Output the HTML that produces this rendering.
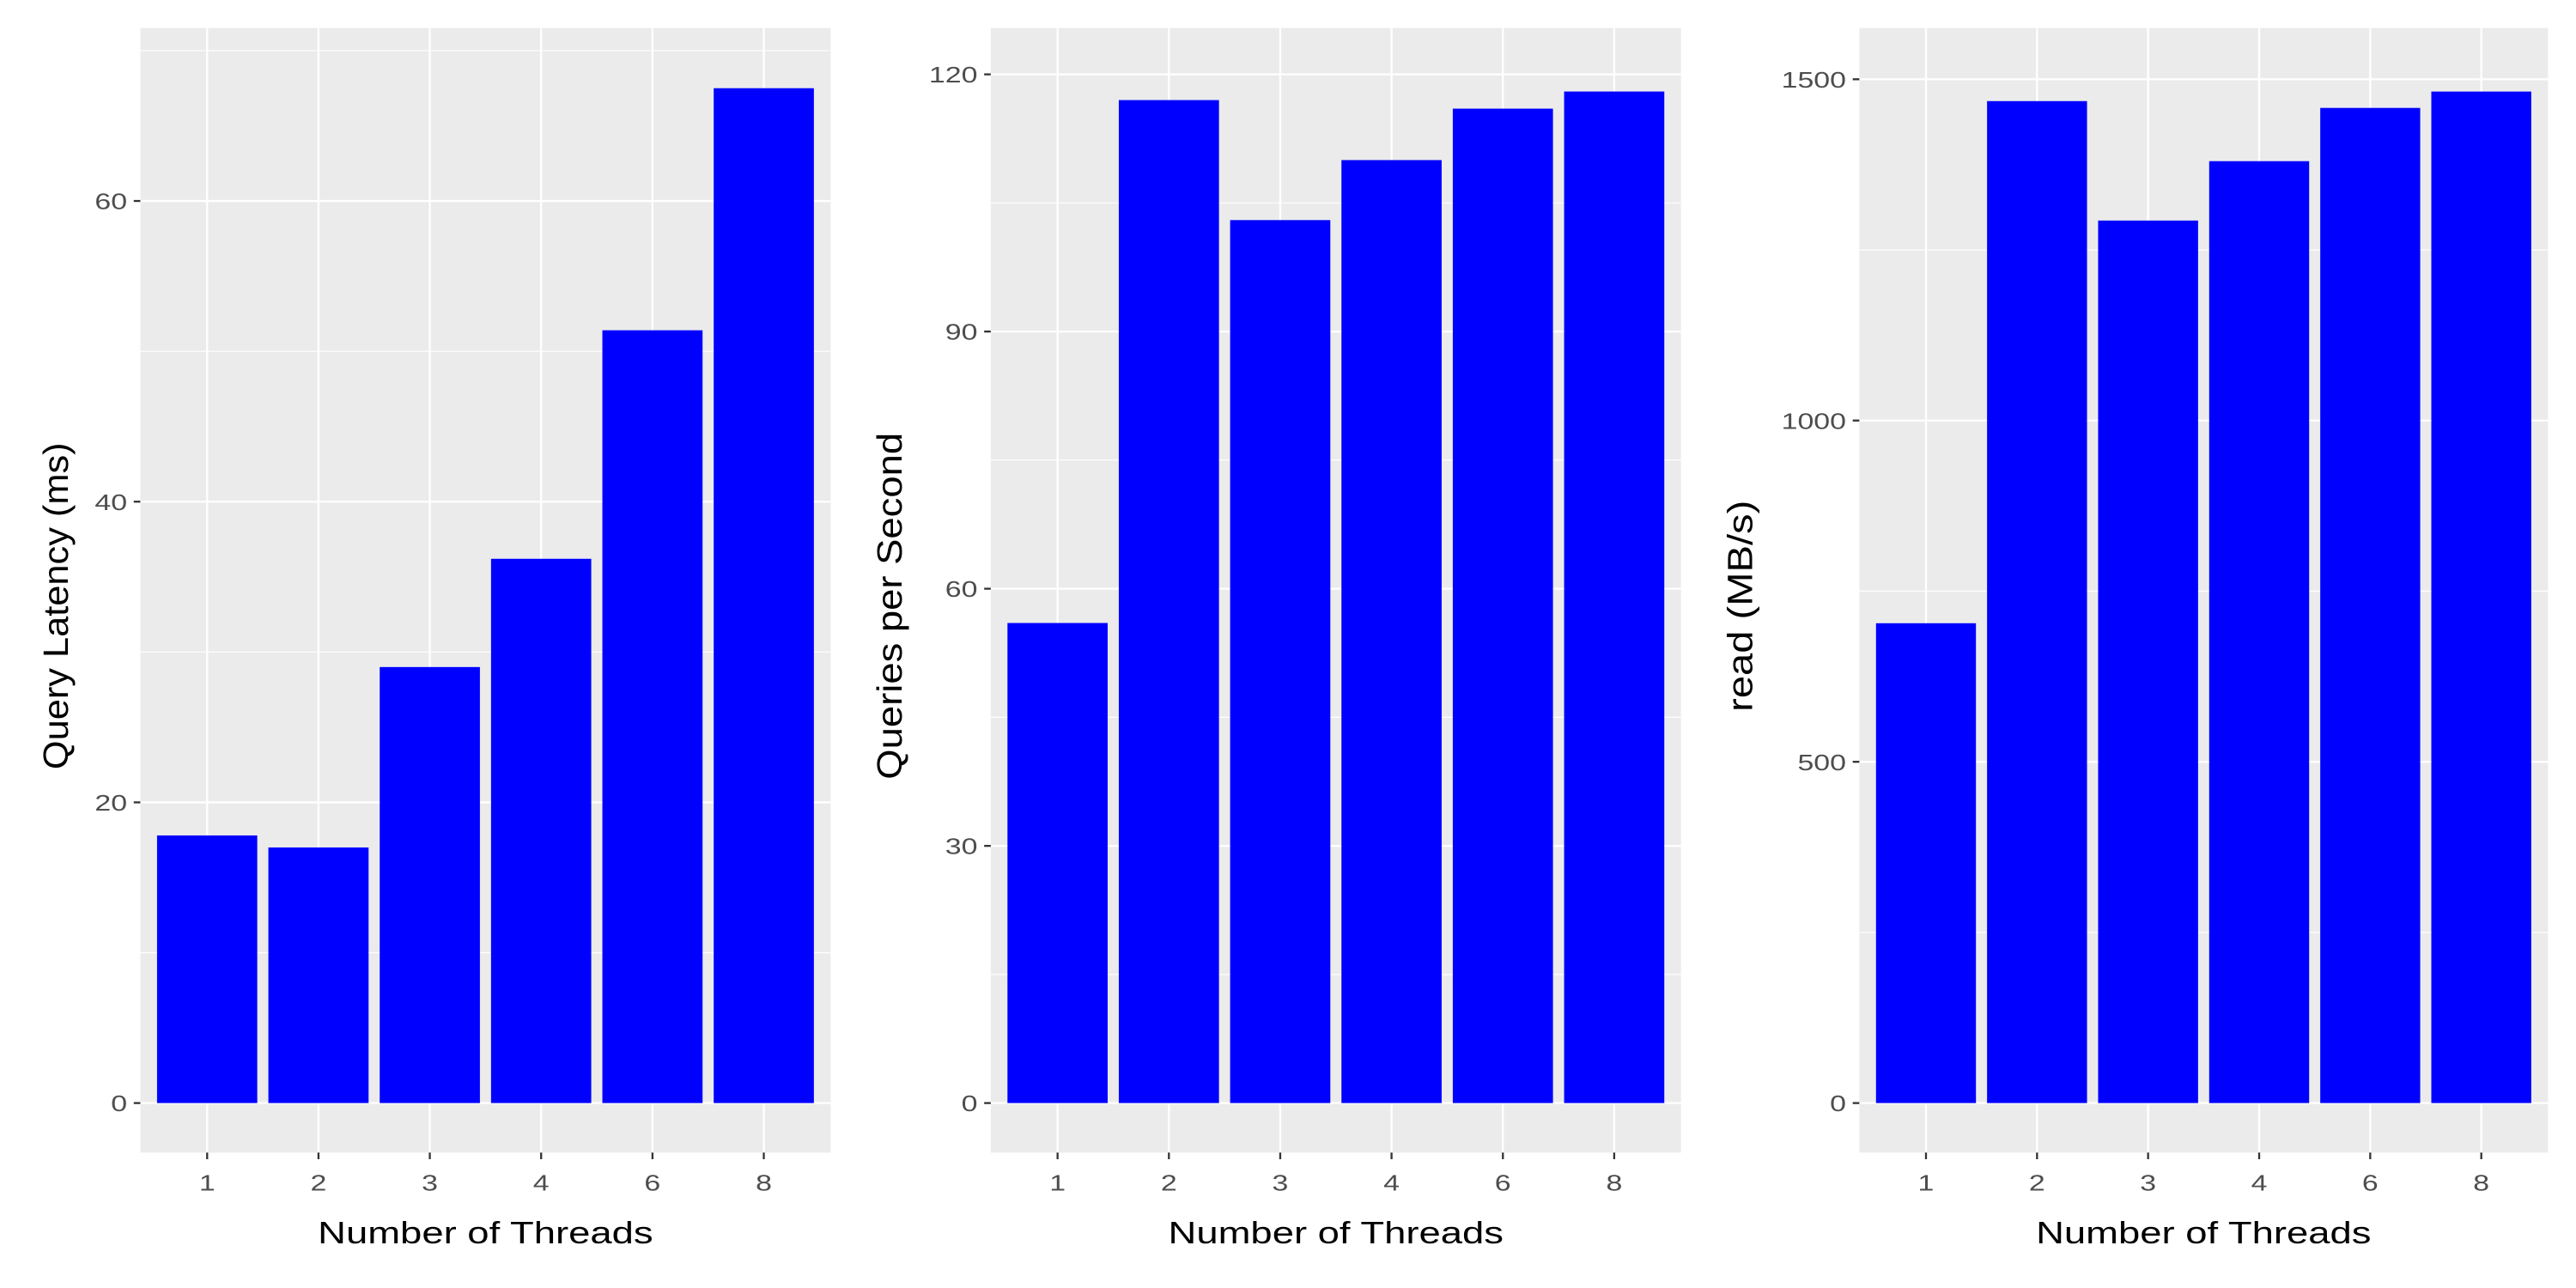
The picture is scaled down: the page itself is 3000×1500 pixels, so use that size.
<!DOCTYPE html>
<html><head><meta charset="utf-8"><style>
html,body{margin:0;padding:0;background:#fff;}
svg{display:block;}
text{font-family:"Liberation Sans",sans-serif;}
</style></head><body>
<svg id="chart" xmlns="http://www.w3.org/2000/svg" width="3000" height="1500" viewBox="0 0 1560 780"></svg>
<script>
const categories = ["1","2","3","4","6","8"];
const latencyValues = [17.8, 17.0, 29.0, 36.2, 51.4, 67.5];
const qpsValues = [56, 117, 103, 110, 116, 118];
const readValues = [703, 1468, 1293, 1380, 1458, 1482];
const latencyTicks = [0, 20, 40, 60];
const qpsTicks = [0, 30, 60, 90, 120];
const readTicks = [0, 500, 1000, 1500];
const latencyMinor = [10, 30, 50, 70];
const qpsMinor = [15, 45, 75, 105];
const readMinor = [250, 750, 1250];

const NS = "http://www.w3.org/2000/svg";
const svgRoot = document.getElementById("chart");
function mk(tag, attrs, parent) {
  const e = document.createElementNS(NS, tag);
  for (const k in attrs) e.setAttribute(k, attrs[k]);
  (parent || svgRoot).appendChild(e);
  return e;
}
const panels = [
  {key:"latency", x0:85, x1:503, yMax:71.5, values:latencyValues, ticks:latencyTicks, minor:latencyMinor, title:"Query Latency (ms)", tx:33, tl:198},
  {key:"qps", x0:600, x1:1018, yMax:125.4, values:qpsValues, ticks:qpsTicks, minor:qpsMinor, title:"Queries per Second", tx:538, tl:210},
  {key:"read", x0:1126, x1:1543, yMax:1575, values:readValues, ticks:readTicks, minor:readMinor, title:"read (MB/s)", tx:1053, tl:128}
];
const plotTop = 17, plotBottom = 698, zeroY = 668;
panels.forEach(p => {
  const g = mk("g", {});
  
  
  const yScale = v => zeroY - v / p.yMax * (zeroY - plotTop);
  const n = categories.length;
  const step = (p.x1 - p.x0) / (n + 0.2);
  const xScale = i => p.x0 + step * (0.6 + i);
  const bg = mk("rect", {x:p.x0, y:plotTop, width:p.x1 - p.x0, height:plotBottom - plotTop, fill:"#ebebeb"}, g);
  
  
  p.minor.forEach(v => {
    const l = mk("line", {x1:p.x0, x2:p.x1, y1:yScale(v), y2:yScale(v), stroke:"#fff", "stroke-width":0.6}, g);
    
    
  });
  p.ticks.forEach(v => {
    const y = yScale(v);
    const l = mk("line", {x1:p.x0, x2:p.x1, y1:y, y2:y, stroke:"#fff", "stroke-width":1.2}, g);
    
    
    const t = mk("line", {x1:p.x0 - 4, x2:p.x0, y1:y, y2:y, stroke:"#333", "stroke-width":1.2}, g);
    
    
    const s = String(v);
    const tx = mk("text", {x:p.x0 - 8, y:y + 5, "text-anchor":"end", "font-size":13.5, fill:"#4d4d4d", textLength:s.length * 9.8, lengthAdjust:"spacingAndGlyphs"}, g);
    tx.textContent = s;
    
    
  });
  categories.forEach((c, i) => {
    const x = xScale(i);
    const l = mk("line", {x1:x, x2:x, y1:plotTop, y2:plotBottom, stroke:"#fff", "stroke-width":1.2}, g);
    
    
    const t = mk("line", {x1:x, x2:x, y1:plotBottom, y2:plotBottom + 4, stroke:"#333", "stroke-width":1.2}, g);
    
    
    const tx = mk("text", {x:x, y:plotBottom + 23, "text-anchor":"middle", "font-size":13.5, fill:"#4d4d4d", textLength:9.8, lengthAdjust:"spacingAndGlyphs"}, g);
    tx.textContent = c;
    
    
  });
  p.values.forEach((v, i) => {
    const w = step * 0.9;
    const b = mk("rect", {x:xScale(i) - w / 2, y:yScale(v), width:w, height:zeroY - yScale(v), fill:"#0000ff"}, g);
    
    
  });
  const xt = mk("text", {x:(p.x0 + p.x1) / 2, y:753, "text-anchor":"middle", "font-size":19, fill:"#000", textLength:203, lengthAdjust:"spacingAndGlyphs"}, g);
  xt.textContent = "Number of Threads";
  
  
  const cy = 367;
  const tx = p.tx + 8;
  const yt = mk("text", {x:tx, y:cy, "text-anchor":"middle", "font-size":21, fill:"#000", textLength:p.tl, lengthAdjust:"spacingAndGlyphs", transform:"rotate(-90 " + tx + " " + cy + ")"}, g);
  yt.textContent = p.title;
  
  
});
</script>
</body></html>
